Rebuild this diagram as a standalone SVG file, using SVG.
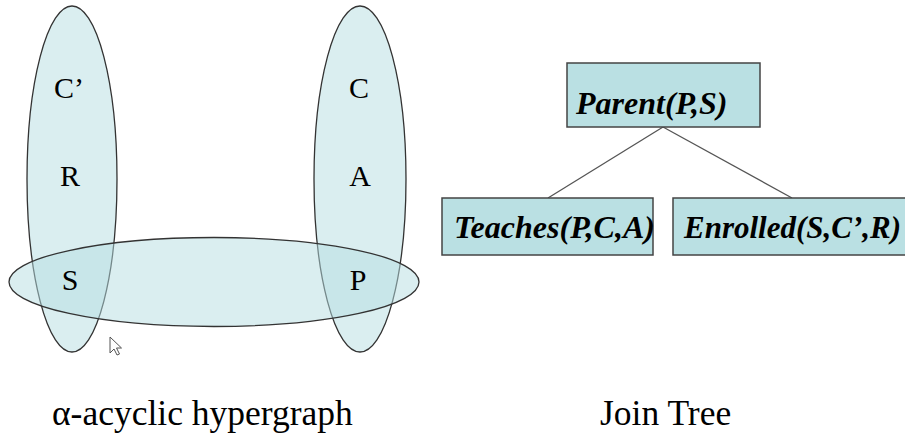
<svg xmlns="http://www.w3.org/2000/svg" width="905" height="440" viewBox="0 0 905 440">
<style>
.edge{fill:#b5dde1;fill-opacity:0.5;stroke:#333;stroke-width:1.3}
.v{font-family:'Liberation Serif','Times New Roman',serif;font-size:30px;fill:#000;text-anchor:middle}
.box{fill:#bae0e3;stroke:#444;stroke-width:1.5}
.lbl{font-family:'Liberation Serif','Times New Roman',serif;font-size:32px;font-weight:bold;font-style:italic;fill:#000}
.cap{font-family:'Liberation Serif','Times New Roman',serif;font-size:35.5px;fill:#000}
.conn{stroke:#555;stroke-width:1.3;fill:none}
</style>
<g id="hypergraph">
<ellipse id="edge-left" class="edge" cx="72" cy="179" rx="45" ry="173"/>
<ellipse id="edge-right" class="edge" cx="360" cy="179" rx="46" ry="173"/>
<ellipse id="edge-bottom" class="edge" cx="214" cy="282" rx="205" ry="44.5"/>
<text class="v" x="69" y="98">C’</text>
<text class="v" x="70" y="186">R</text>
<text class="v" x="70" y="290">S</text>
<text class="v" x="359" y="98">C</text>
<text class="v" x="360" y="186">A</text>
<text class="v" x="358" y="290">P</text>
</g>
<polygon id="cursor" points="110,337 110,353 114,349 117,355 119.5,354 116.5,348 121.5,348" fill="#fff" stroke="#555" stroke-width="1"/>
<g id="connectors">
<line class="conn" x1="663" y1="127" x2="548" y2="198"/>
<line class="conn" x1="663" y1="127" x2="792" y2="198"/>
</g>
<g id="parent">
<rect class="box" x="567" y="63" width="193" height="64"/>
<text class="lbl" x="576" y="114">Parent(P,S)</text>
</g>
<g id="teaches">
<rect class="box" x="442" y="198" width="211" height="57"/>
<text class="lbl" x="454" y="238">Teaches(P,C,A)</text>
</g>
<g id="enrolled">
<rect class="box" x="673" y="198" width="240" height="57"/>
<text class="lbl" x="684" y="238" style="font-size:31px">Enrolled(S,C’,R)</text>
</g>
<text class="cap" x="52" y="425">α-acyclic hypergraph</text>
<text class="cap" x="600" y="425">Join Tree</text>
</svg>
